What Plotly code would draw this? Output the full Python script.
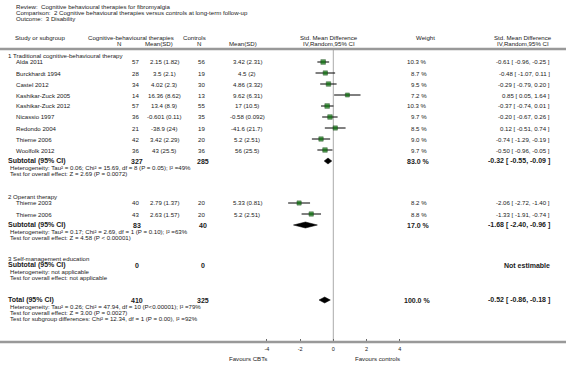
import plotly.graph_objects as go

# ---------------- data ----------------
title_lines = ["Review:  Cognitive behavioural therapies for fibromyalgia",
               "Comparison:  2 Cognitive behavioural therapies versus controls at long-term follow-up",
               "Outcome:  3 Disability"]

g1_name = "1 Traditional cognitive-behavioural therapy"
g1_studies = ["Alda 2011", "Burckhardt 1994", "Castel 2012", "Kashikar-Zuck 2005", "Kashikar-Zuck 2012",
              "Nicassio 1997", "Redondo 2004", "Thieme 2006", "Woolfolk 2012"]
g1_cbt_n = [57, 28, 34, 14, 57, 36, 21, 42, 36]
g1_cbt_msd = ["2.15 (1.82)", "3.5 (2.1)", "4.02 (2.3)", "16.36 (8.62)", "13.4 (8.9)", "-0.601 (0.11)",
              "-38.9 (24)", "3.42 (2.29)", "43 (25.5)"]
g1_ctl_n = [56, 19, 30, 13, 55, 35, 19, 20, 36]
g1_ctl_msd = ["3.42 (2.31)", "4.5 (2)", "4.86 (3.32)", "9.62 (6.31)", "17 (10.5)", "-0.58 (0.092)",
              "-41.6 (21.7)", "5.2 (2.51)", "56 (25.5)"]
g1_weight = [10.3, 8.7, 9.5, 7.2, 10.3, 9.7, 8.5, 9.0, 9.7]
g1_smd = [-0.61, -0.48, -0.29, 0.85, -0.37, -0.20, 0.12, -0.74, -0.50]
g1_lo = [-0.96, -1.07, -0.79, 0.05, -0.74, -0.67, -0.51, -1.29, -0.96]
g1_hi = [-0.25, 0.11, 0.20, 1.64, 0.01, 0.26, 0.74, -0.19, -0.05]
g1_sub = {"n1": 327, "n2": 285, "w": 83.0, "est": -0.32, "lo": -0.55, "hi": -0.09}
g1_het = "Heterogeneity: Tau\u00b2 = 0.06; Chi\u00b2 = 15.69, df = 8 (P = 0.05); I\u00b2 =49%"
g1_test = "Test for overall effect: Z = 2.69 (P = 0.0072)"

g2_name = "2 Operant therapy"
g2_studies = ["Thieme 2003", "Thieme 2006"]
g2_cbt_n = [40, 43]
g2_cbt_msd = ["2.79 (1.37)", "2.63 (1.57)"]
g2_ctl_n = [20, 20]
g2_ctl_msd = ["5.33 (0.81)", "5.2 (2.51)"]
g2_weight = [8.2, 8.8]
g2_smd = [-2.06, -1.33]
g2_lo = [-2.72, -1.91]
g2_hi = [-1.40, -0.74]
g2_sub = {"n1": 83, "n2": 40, "w": 17.0, "est": -1.68, "lo": -2.40, "hi": -0.96}
g2_het = "Heterogeneity: Tau\u00b2 = 0.17; Chi\u00b2 = 2.69, df = 1 (P = 0.10); I\u00b2 =63%"
g2_test = "Test for overall effect: Z = 4.58 (P < 0.00001)"

g3_name = "3 Self-management education"
g3_sub = {"n1": 0, "n2": 0}
g3_het = "Heterogeneity: not applicable"
g3_test = "Test for overall effect: not applicable"

total = {"n1": 410, "n2": 325, "w": 100.0, "est": -0.52, "lo": -0.86, "hi": -0.18}
total_het = "Heterogeneity: Tau\u00b2 = 0.26; Chi\u00b2 = 47.94, df = 10 (P<0.00001); I\u00b2 =79%"
total_test = "Test for overall effect: Z = 3.00 (P = 0.0027)"
total_sub = "Test for subgroup differences: Chi\u00b2 = 12.34, df = 1 (P = 0.00), I\u00b2 =92%"

tick_vals = [-4, -2, 0, 2, 4]
tick_text = ["-4", "-2", "0", "2", "4"]
fav_left = "Favours CBTs"
fav_right = "Favours controls"

# ---------------- layout constants (pixels) ----------------
W, H = 566, 372
FONT = "Liberation Sans"
TXT = "#1a1a1a"
GRID = "#999999"
ZERO_PX = 333.3
PX_PER_UNIT = 16.6
TOP_LINE = 49
AX_BOTTOM = 342
ROW = 11

X_STUDY = 14
X_GROUP = 6
X_HET = 8
X_N1 = 135
X_M1 = 164
X_N2 = 201
X_M2 = 247
X_W = 429
X_CI = 552

FS = 6.1
FS_HET = 6.1
FS_B = 7.0

annotations = []


def txt(x, y, s, anchor="left", size=FS, bold=False):
    annotations.append(dict(
        x=x / W, y=1 - y / H, xref="paper", yref="paper", text=("<b>%s</b>" % s) if bold else s,
        showarrow=False, xanchor=anchor, yanchor="middle",
        font=dict(family=FONT, size=size, color=TXT)))


# title
for i, line in enumerate(title_lines):
    txt(14, 7 + 6 * i, line)

# header
txt(13, 37, "Study or subgroup")
txt(176, 37, "Cognitive-behavioural therapies", anchor="right")
txt(119, 43.5, "N", anchor="center")
txt(159, 43.5, "Mean(SD)", anchor="center")
txt(181, 37, "Controls")
txt(199, 43.5, "N", anchor="center")
txt(243, 43.5, "Mean(SD)", anchor="center")
txt(329, 37, "Std. Mean Difference", anchor="center")
txt(329, 43.5, "IV,Random,95% CI", anchor="center")
txt(425, 37, "Weight", anchor="center")
txt(523, 37, "Std. Mean Difference", anchor="center")
txt(523, 43.5, "IV,Random,95% CI", anchor="center")

ci_x, ci_y = [], []
mk_x, mk_y, mk_s = [], [], []
diamonds = []


def study_rows(y0, names, n1, m1, n2, m2, w, est, lo, hi):
    for i in range(len(names)):
        y = y0 + ROW * i
        txt(X_STUDY, y, names[i])
        txt(X_N1, y, str(n1[i]), anchor="center")
        txt(X_M1, y, m1[i], anchor="center")
        txt(X_N2, y, str(n2[i]), anchor="center")
        txt(X_M2, y, m2[i], anchor="center")
        txt(X_W, y, "%.1f %%" % w[i], anchor="right")
        txt(X_CI, y, "%.2f [ %.2f, %.2f ]" % (est[i], lo[i], hi[i]), anchor="right")
        ci_x.extend([lo[i], hi[i], None])
        ci_y.extend([y, y, None])
        mk_x.append(est[i])
        mk_y.append(y)
        mk_s.append(2.6 + 0.2 * w[i])


def subtotal(y, label, d, lines, estimable=True):
    txt(X_GROUP, y, label, size=FS_B, bold=True)
    txt(X_N1 + 2, y, str(d["n1"]), anchor="center", size=FS_B, bold=True)
    txt(X_N2 + 2, y, str(d["n2"]), anchor="center", size=FS_B, bold=True)
    if estimable:
        txt(X_W + 3, y, "%.1f %%" % d["w"], anchor="right", size=FS_B, bold=True)
        txt(X_CI, y, "%.2f [ %.2f, %.2f ]" % (d["est"], d["lo"], d["hi"]), anchor="right",
            size=FS_B, bold=True)
        diamonds.append((d["lo"], d["est"], d["hi"], y))
    else:
        txt(X_CI, y, "Not estimable", anchor="right", size=FS_B, bold=True)
    yy = y + 6.3
    for line in lines:
        txt(X_HET, yy, line, size=FS_HET)
        yy += 6.3


# group 1
txt(X_GROUP, 55.5, g1_name)
study_rows(62, g1_studies, g1_cbt_n, g1_cbt_msd, g1_ctl_n, g1_ctl_msd, g1_weight, g1_smd, g1_lo, g1_hi)
subtotal(161, "Subtotal (95% CI)", g1_sub, [g1_het, g1_test])

# group 2
txt(X_GROUP, 196.5, g2_name)
study_rows(203, g2_studies, g2_cbt_n, g2_cbt_msd, g2_ctl_n, g2_ctl_msd, g2_weight, g2_smd, g2_lo, g2_hi)
subtotal(225, "Subtotal (95% CI)", g2_sub, [g2_het, g2_test])

# group 3
txt(X_GROUP, 258, g3_name)
subtotal(265, "Subtotal (95% CI)", g3_sub, [g3_het, g3_test], estimable=False)

# total
subtotal(300, "Total (95% CI)", total, [total_het, total_test, total_sub])

# favours labels
txt(248, 358, fav_left, anchor="center")
txt(377, 358, fav_right, anchor="center")

fig = go.Figure()

shapes = [
    dict(type="line", xref="paper", yref="paper", x0=ZERO_PX / W, x1=ZERO_PX / W,
         y0=1 - TOP_LINE / H, y1=1 - AX_BOTTOM / H, line=dict(color="#aaaaaa", width=1), layer="below"),
    dict(type="line", xref="paper", yref="paper", x0=0, x1=1, y0=1 - TOP_LINE / H, y1=1 - TOP_LINE / H,
         line=dict(color=GRID, width=2.5)),
    dict(type="line", xref="paper", yref="paper", x0=0, x1=1, y0=1 - AX_BOTTOM / H, y1=1 - AX_BOTTOM / H,
         line=dict(color=GRID, width=2.5)),
]

fig.add_trace(go.Scatter(x=ci_x, y=ci_y, mode="lines", line=dict(color="black", width=1),
                         hoverinfo="skip", showlegend=False))
fig.add_trace(go.Scatter(x=mk_x, y=mk_y, mode="markers",
                         marker=dict(symbol="square", size=mk_s, color="#007000",
                                     line=dict(color="#003300", width=0.6)),
                         showlegend=False, hoverinfo="skip"))
HALF = 3.0
for lo, est, hi, y in diamonds:
    fig.add_trace(go.Scatter(x=[lo, est, hi, est, lo], y=[y, y - HALF, y, y + HALF, y],
                             mode="lines", fill="toself", fillcolor="black",
                             line=dict(color="black", width=0.5), showlegend=False, hoverinfo="skip"))

fig.update_layout(
    width=W, height=H, margin=dict(l=0, r=0, t=0, b=0),
    paper_bgcolor="white", plot_bgcolor="rgba(0,0,0,0)",
    annotations=annotations, shapes=shapes, showlegend=False,
    xaxis=dict(domain=[0, 1], range=[-ZERO_PX / PX_PER_UNIT, (W - ZERO_PX) / PX_PER_UNIT],
               showgrid=False, zeroline=False, showline=False,
               tickvals=tick_vals, ticktext=tick_text, ticks="inside", ticklen=3,
               tickcolor="#666", tickwidth=1, ticklabelstandoff=2,
               tickfont=dict(family=FONT, size=5.5, color=TXT), fixedrange=True),
    yaxis=dict(domain=[(H - AX_BOTTOM) / H, 1], range=[AX_BOTTOM, 0],
               showgrid=False, zeroline=False, showline=False, showticklabels=False, ticks="",
               fixedrange=True),
)

fig.write_html("out.html")
